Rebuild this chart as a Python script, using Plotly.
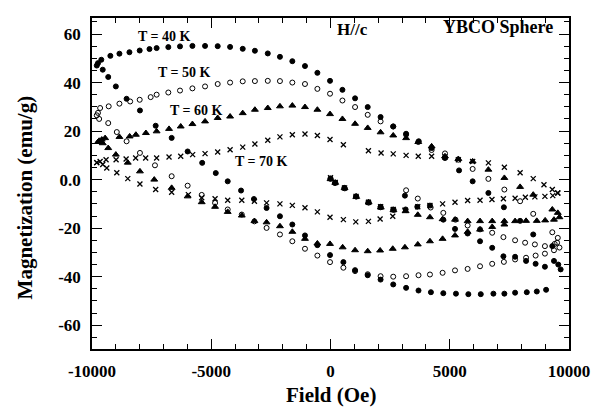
import plotly.graph_objects as go

# ---------------- data ----------------
# T = 40 K (filled circles)
h40_virgin = [0, 190, 580, 1070, 1590, 2100, 2630, 3150, 3120, 3640, 4170, 4730, 5220, 5750, 6270, 6780, 7250, 7740, 8200, 8600, 8990, 9370]
m40_virgin = [0.5, -1.4, -3.4, -6.9, -9.3, -11.2, -12.3, -12.3, -6.6, -11.2, -10.7, -16.5, -20.3, -22.2, -25.4, -28.1, -31.6, -31.8, -33.5, -34.7, -35.9, -33.5]
h40_up = [9650, 9550, 9300, 8500, 7950, 7270, 6620, 5960, 5390, 4800, 4240, 3700, 3170, 2630, 2100, 1560, 1030, 500, -20, -550, -1070, -1600, -2120, -2630, -3170, -3680, -4210, -4730, -5260, -5790, -6310, -6800, -7290, -7590, -8000, -8430, -8850, -9230, -9610, -9750]
m40_up = [-37, -35, -27.4, -22.6, -17, -11.4, -5.5, -0.7, 3.8, 8.9, 13, 15.8, 18.9, 21.9, 25.8, 29.9, 33.5, 37, 40.7, 44, 46.8, 48.8, 50.6, 52, 53.1, 53.9, 54.7, 55, 55.1, 55.1, 54.9, 54.6, 54.2, 53.8, 53.2, 52.5, 51.9, 51, 49.4, 48]
h40_down = [-9800, -9550, -9320, -9000, -8550, -7990, -7330, -6660, -5990, -5380, -4810, -4310, -3750, -3210, -2680, -2120, -1600, -1070, -550, -20, 540, 1030, 1560, 2100, 2630, 3170, 3690, 4210, 4730, 5260, 5780, 6300, 6830, 7290, 7740, 8230, 8650, 9040]
m40_down = [47, 45.3, 42.3, 38.4, 33.3, 28.5, 22.2, 17.2, 11.6, 6.9, 2.7, -0.7, -4.5, -8, -11.7, -15.1, -18.5, -23, -27, -31.1, -34, -37.3, -39.4, -41.2, -43.2, -44.6, -45.7, -46.4, -46.8, -47, -47.2, -47.2, -47, -47, -46.6, -46.4, -46.1, -45.4]

# T = 50 K (open circles)
h50_virgin = [0, 200, 600, 1080, 1600, 2100, 2650, 3170, 3660, 4200, 4730, 5240, 5750, 6270, 6780, 7250, 7740, 8160, 8570, 8990, 9400]
m50_virgin = [0.3, -1.2, -3.6, -7.0, -9.5, -11.4, -12.5, -4.4, -7.8, -11.5, -13.7, -16.5, -18.9, -20.5, -21.9, -23.7, -25, -26, -26.7, -27.4, -26.5]
h50_up = [9600, 9530, 9300, 8500, 7950, 7290, 6620, 5960, 5360, 4800, 4240, 3680, 3170, 2630, 2100, 1560, 1030, 500, -20, -550, -1070, -1600, -2120, -2630, -3170, -3680, -4210, -4730, -5260, -5790, -6310, -6800, -7290, -7540, -8000, -8400, -8850, -9300, -9660, -9750]
m50_up = [-28, -24, -21.7, -14.1, -8.9, -4.1, 0.3, 4.4, 8.2, 10.8, 12.2, 15.5, 18.5, 21.9, 24, 26.7, 29.9, 32.6, 35.4, 37.4, 39.4, 40, 40.6, 40.7, 40.6, 40.5, 40, 39.4, 38.4, 37.6, 36.7, 35.9, 35, 34, 32.9, 32.2, 31.3, 30.2, 29.5, 27.5]
h50_down = [-9800, -9700, -9320, -8960, -8550, -7990, -7360, -6660, -5990, -5400, -4840, -4310, -3720, -3190, -2680, -2120, -1600, -1070, -550, -20, 540, 1030, 1560, 2100, 2630, 3170, 3690, 4170, 4700, 5220, 5750, 6270, 6780, 7270, 7740, 8200, 8600, 8990, 9370, 9500]
m50_down = [26.5, 25, 23.3, 19.6, 15.8, 11, 5.9, 1.4, -2.5, -6.3, -9.6, -12.3, -14.4, -17.2, -19.9, -22.6, -25.4, -28.5, -31.3, -34, -36.3, -37.7, -39, -39.8, -40, -39.8, -39.4, -39.1, -38.4, -37.4, -36.8, -35.7, -34.7, -33.9, -32.9, -32.2, -31.3, -30.5, -29.1, -26]

# T = 60 K (filled triangles)
h60_virgin = [0, 200, 590, 1080, 1600, 2110, 2640, 3150, 3660, 4170, 4700, 5220, 5750, 6270, 6780, 7290, 7740, 8200, 8650, 9000, 9370]
m60_virgin = [0.2, -1.3, -3.5, -7.1, -9.4, -11.5, -12.6, -13, -14.5, -15.5, -16.3, -16.5, -17.1, -17.1, -17.1, -17.1, -17.1, -17, -17, -16.8, -16.5]
h60_up = [9600, 9530, 9300, 8500, 7950, 7290, 6620, 5960, 5360, 4800, 4240, 3680, 3170, 2630, 2100, 1560, 1030, 500, -20, -550, -1070, -1600, -2120, -2630, -3170, -3680, -4210, -4730, -5260, -5790, -6280, -6770, -7290, -7740, -8160, -8420, -8850, -9450, -9700]
m60_up = [-15.5, -13.7, -12.3, -6.2, -3, 0.7, 4.1, 7.5, 8.5, 9.6, 13.7, 15.5, 17.1, 18.2, 19.5, 21.3, 23, 25, 27, 28.8, 29.9, 30.5, 30.2, 29.5, 28.8, 27.4, 26, 25.4, 24, 22.9, 21.9, 20.9, 19.9, 19.2, 18.5, 17.8, 17.6, 17.1, 16]
h60_down = [-9750, -9590, -9550, -9320, -9000, -8500, -7990, -7390, -6660, -5990, -5400, -4840, -4310, -3720, -3190, -2680, -2120, -1600, -1070, -550, -20, 510, 1030, 1560, 2080, 2610, 3120, 3660, 4170, 4700, 5220, 5750, 6270, 6780, 7290]
m60_down = [15.5, 16.5, 15, 13, 10.3, 7, 3.4, 0, -3.4, -6.9, -9.3, -11.2, -13.3, -14.8, -17.1, -17.6, -19.2, -21.5, -24.4, -26.3, -26.5, -27.9, -29.1, -29.5, -29.2, -28.5, -27.9, -26.7, -25.4, -24.4, -23, -21.5, -20.6, -19.5, -18.5]

# T = 70 K (crosses)
h70_virgin = [0, 200, 590, 1070, 1590, 2100, 2630]
m70_virgin = [0.8, -1.2, -3.4, -6.9, -9.3, -11.2, -12.3]
h70_up = [9530, 9300, 8950, 8500, 7950, 7290, 6620, 5960, 5360, 4800, 4240, 3680, 3170, 2630, 2120, 1590, 540, -20, -550, -1070, -1600, -2120, -2630, -3170, -3680, -4210, -4730, -5260, -5780, -6280, -6770, -7290, -7750, -8170, -8570, -8990, -9410, -9660, -9800]
m70_up = [-5.5, -4.1, -2.1, 0.4, 2.8, 5.1, 6.9, 7.5, 8.2, 9.3, 9.6, 9.6, 10, 10.6, 11, 11.9, 14.4, 16.5, 18.2, 18.8, 18.5, 17.6, 16.2, 14.7, 13.4, 12.3, 11.4, 10.7, 10.3, 9.6, 9.3, 8.9, 8.9, 8.9, 8.5, 8.2, 8.2, 7.5, 7]
h70_down = [-9800, -9550, -9380, -8960, -8500, -7990, -7330, -6660, -5960, -5400, -4840, -4310, -3720, -3190, -2680, -2120, -1600, -1070, -550, -20, 540, 1060, 1590, 2080, 2610, 3120, 3660, 4170, 4700, 5220, 5750, 6270, 6770, 7250, 7740, 8170, 8570, 8990, 9320, 9530]
m70_down = [7, 6.2, 4.8, 2.8, 0.4, -1.8, -4.1, -5.2, -6.2, -7.5, -7.9, -8.5, -8.5, -8.9, -9.6, -10, -10.6, -11.6, -13.3, -15.5, -16.5, -17.4, -17.2, -16.2, -15.1, -12.6, -11.2, -10.7, -10, -9.3, -8.6, -8.5, -8.2, -7.9, -7.7, -7.3, -7.1, -6.9, -6.6, -5.5]

x_tickvals = [-10000, -5000, 0, 5000, 10000]
x_ticktext = ["-10000", "-5000", "0", "5000", "10000"]
y_tickvals = [-60, -40, -20, 0, 20, 40, 60]
y_ticktext = ["-60", "-40", "-20", "0.0", "20", "40", "60"]

series = [
    ("T = 40 K", h40_virgin + h40_up + h40_down, m40_virgin + m40_up + m40_down, "circle", 5),
    ("T = 50 K", h50_virgin + h50_up + h50_down, m50_virgin + m50_up + m50_down, "circle-open", 5),
    ("T = 60 K", h60_virgin + h60_up + h60_down, m60_virgin + m60_up + m60_down, "triangle-up", 6),
    ("T = 70 K", h70_virgin + h70_up + h70_down, m70_virgin + m70_up + m70_down, "x-thin-open", 5),
]

label_pos = {"T = 40 K": (-6940, 58.8), "T = 50 K": (-6120, 44.0),
             "T = 60 K": (-5610, 28.5), "T = 70 K": (-2880, 7.5)}

FONT = "Liberation Serif"

fig = go.Figure()
for name, hx, my, sym, sz in series:
    fig.add_trace(go.Scatter(
        x=hx, y=my, mode="markers", name=name, showlegend=False,
        marker=dict(symbol=sym, size=sz, color="black",
                    line=dict(color="black", width=1.3 if "x" in sym else 1)),
    ))

for name, (hx, my) in label_pos.items():
    fig.add_annotation(x=hx, y=my, text="<b>" + name + "</b>", showarrow=False,
                       font=dict(family=FONT, size=14, color="black"))

fig.add_annotation(x=920, y=61.7, text="<b>H//c</b>", showarrow=False,
                   font=dict(family=FONT, size=17, color="black"))
fig.add_annotation(x=7010, y=62.8, text="<b>YBCO Sphere</b>", showarrow=False,
                   font=dict(family=FONT, size=18, color="black"))

# axis titles (placed in pixels relative to the 331px-high, 477px-wide plot area)
fig.add_annotation(xref="paper", yref="paper", x=0.5, y=-46 / 331, yanchor="middle",
                   text="<b>Field (Oe)</b>", showarrow=False,
                   font=dict(family=FONT, size=21, color="black"))
fig.add_annotation(xref="paper", yref="paper", x=-67 / 477, y=0.458, xanchor="center",
                   yanchor="middle", textangle=-90,
                   text="<b>Magnetization (emu/g)</b>", showarrow=False,
                   font=dict(family=FONT, size=21, color="black"))

axis_common = dict(
    showline=True, linecolor="black", linewidth=1.5, mirror="ticks",
    ticks="inside", ticklen=10, tickwidth=1, tickcolor="black",
    showgrid=False, zeroline=False, automargin=False,
    tickfont=dict(family=FONT, size=17, color="black", weight="bold"),
)

fig.update_xaxes(range=[-10000, 10000], tickvals=x_tickvals, ticktext=x_ticktext,
                 minor=dict(dtick=1000, ticklen=5, ticks="inside", tickcolor="black"),
                 ticklabelstandoff=6, **axis_common)
fig.update_yaxes(range=[-69.8, 66.6], tickvals=y_tickvals, ticktext=y_ticktext,
                 minor=dict(dtick=5, ticklen=5, ticks="inside", tickcolor="black"),
                 ticklabelstandoff=6, **axis_common)

fig.update_layout(
    width=603, height=411,
    margin=dict(l=92, r=34, t=18, b=62, autoexpand=False),
    paper_bgcolor="white", plot_bgcolor="white",
    showlegend=False,
)

fig.write_html(
    "out.html",
    config={"displayModeBar": False},
    post_script="document.body.style.margin='0';document.body.style.overflow='hidden';",
)
